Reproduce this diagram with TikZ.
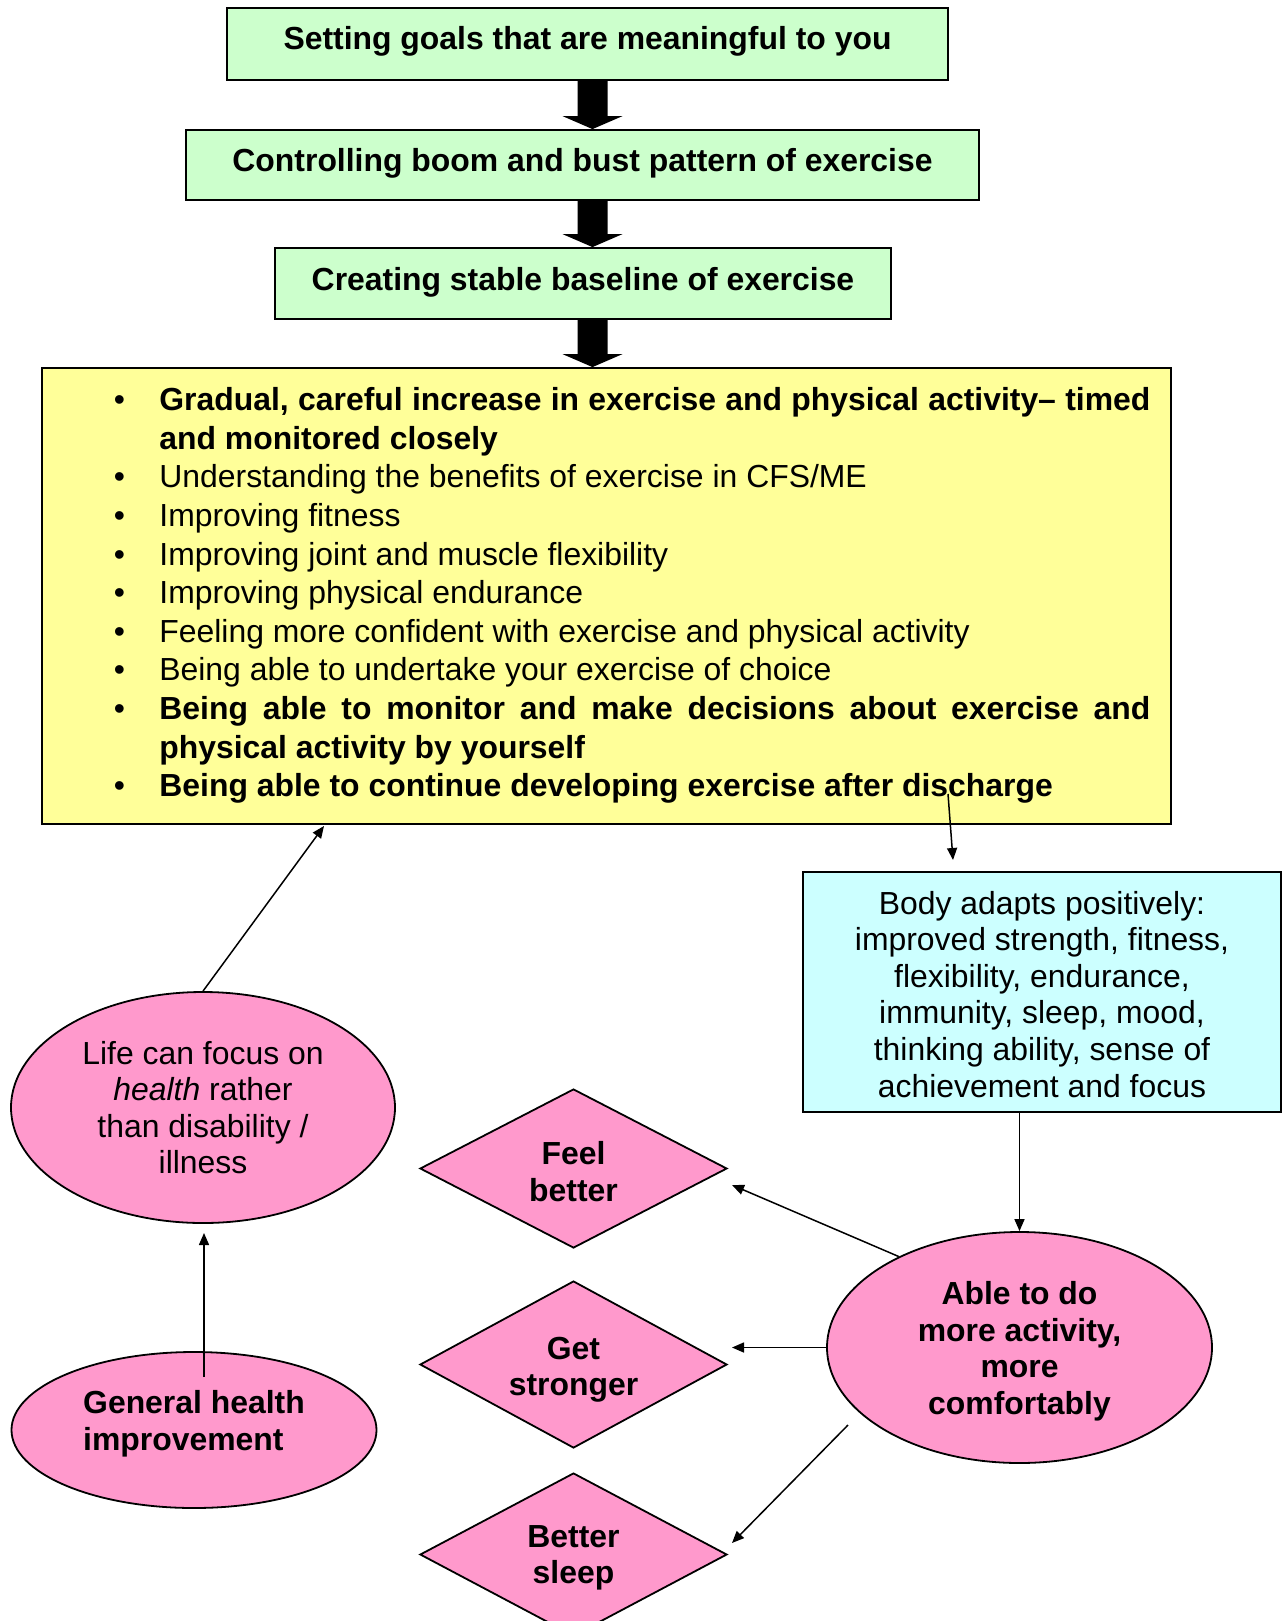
\documentclass[tikz,border=0pt]{standalone}
\usepackage{fontspec}
\setmainfont{Liberation Sans}
\usetikzlibrary{shapes.geometric,arrows.meta,calc}
\definecolor{gfill}{HTML}{CCFFCC}
\definecolor{yfill}{HTML}{FFFF99}
\definecolor{cfill}{HTML}{CCFFFF}
\definecolor{pfill}{HTML}{FF99CC}
\newcommand\itm{\par\noindent\llap{\textbullet\hspace{17.2pt}}\strut}
\newcommand\tp[1]{\rule{0pt}{#1}}
\newcommand\bt[1]{\rule[-#1]{0pt}{0pt}}
\newcommand\fatarrow[2]{%
  \fill[black] ($(ax |- #1.south)+(-15,0)$) -- ($(ax |- #1.south)+(15,0)$)
    -- ($(ax |- #2.north)+(15,-13)$) -- ($(ax |- #2.north)+(30,-13)$)
    -- (ax |- #2.north) -- ($(ax |- #2.north)+(-30,-13)$)
    -- ($(ax |- #2.north)+(-15,-13)$) -- cycle;}
\begin{document}
\begin{tikzpicture}[x=0.5pt,y=-0.5pt,
  reg/.style={font=\fontsize{15.95pt}{18.3pt}\selectfont},
  bold/.style={font=\fontsize{15.95pt}{18.3pt}\selectfont\bfseries},
  shp/.style={draw=black, line width=0.9pt, inner sep=0pt},
  gbox/.style={shp, rectangle, fill=gfill, bold},
  ybox/.style={shp, rectangle, fill=yfill},
  cbox/.style={shp, rectangle, fill=cfill, reg, align=center},
  pell/.style={shp, ellipse, fill=pfill, align=center},
  pdia/.style={shp, diamond, aspect=1.92, fill=pfill, bold, align=center},
  arr/.style={line width=0.75pt, -{Triangle[length=6pt,width=5pt]}}
]
\useasboundingbox (0,0) rectangle (1283,1621);
\clip (0,0) rectangle (1283,1621);
\fill[white] (0,0) rectangle (1283,1621);

% top boxes
\node[gbox, minimum width=360.5pt, minimum height=36pt] (b1) at (587.5,44) {Setting goals that are meaningful to you\bt{6.4pt}};
\node[gbox, minimum width=396.5pt, minimum height=35pt] (b2) at (582.5,165) {Controlling boom and bust pattern of exercise\bt{5.4pt}};
\node[gbox, minimum width=308pt, minimum height=35.5pt] (b3) at (583,283.5) {Creating stable baseline of exercise\bt{4.4pt}};

% yellow box
\node[ybox, minimum width=564.5pt, minimum height=228pt] (yel) at (606.5,596) {};
\node[anchor=north west, inner sep=0pt, text width=495.5pt, align=justify,
      font=\fontsize{15.95pt}{19.3pt}\selectfont] (list) at (159,371.6)
{\hyphenpenalty=10000\hfuzz=5pt
\itm\textbf{Gradual, careful increase in exercise and physical activity-- timed\linebreak and monitored closely}
\itm Understanding the benefits of exercise in CFS/ME
\itm Improving fitness
\itm Improving joint and muscle flexibility
\itm Improving physical endurance
\itm Feeling more confident with exercise and physical activity
\itm Being able to undertake your exercise of choice
\itm\textbf{Being able to monitor and make decisions about exercise and\linebreak physical activity by yourself}
\itm\textbf{Being able to continue developing exercise after discharge}\par};

% cyan box
\node[cbox, minimum width=239pt, minimum height=120pt] (cy) at (1042,992)
{\tp{13.8pt}Body adapts positively:\\improved strength, fitness,\\flexibility, endurance,\\immunity, sleep, mood,\\thinking ability, sense of\\achievement and focus};

% ellipses
\node[pell, reg, minimum width=192pt, minimum height=115.5pt] (life) at (203,1107.5)
{Life can focus on\\\textit{health} rather\\than disability /\\illness};
\node[pell, bold, align=left, minimum width=182.5pt, minimum height=78pt] (gen) at (194,1430)
{General health\\improvement\bt{9.5pt}};
\node[pell, bold, minimum width=192.5pt, minimum height=115.5pt] (able) at (1019.5,1347.5)
{\tp{15.4pt}Able to do\\more activity,\\more\\comfortably};

% diamonds
\node[pdia, minimum width=153.5pt, minimum height=79.5pt] (feel) at (573.5,1168.5) {\tp{14.4pt}Feel\\better};
\node[pdia, minimum width=153.5pt, minimum height=83.5pt] (strong) at (573.5,1364.5) {\tp{16.4pt}Get\\stronger};
\node[pdia, minimum width=153.5pt, minimum height=81.5pt] (sleep) at (573.5,1554.5) {\tp{14.4pt}Better\\sleep};

% fat arrows
\coordinate (ax) at (592.5,0);
\fatarrow{b1}{b2}
\fatarrow{b2}{b3}
\fatarrow{b3}{yel}

% thin arrows
\coordinate (yc1) at (948,794);
\coordinate (yc2) at (953,860);
\draw[arr] (yc1) -- (yc2);
\coordinate (ly) at (324,826);
\draw[arr] (life.north) -- (ly);
\coordinate (g1) at (204,1377);
\coordinate (g2) at (204,1233);
\draw[arr] (g1) -- (g2);
\draw[arr] (cy.south -| able.north) -- (able.north);
\coordinate (fT) at (732,1185);
\draw[arr] (able.143) -- (fT);
\coordinate (sT) at (732,1347.5);
\draw[arr] (able.west) -- (sT);
\coordinate (bS) at (848,1425);
\coordinate (bT) at (732,1543);
\draw[arr] (bS) -- (bT);
\end{tikzpicture}
\end{document}
